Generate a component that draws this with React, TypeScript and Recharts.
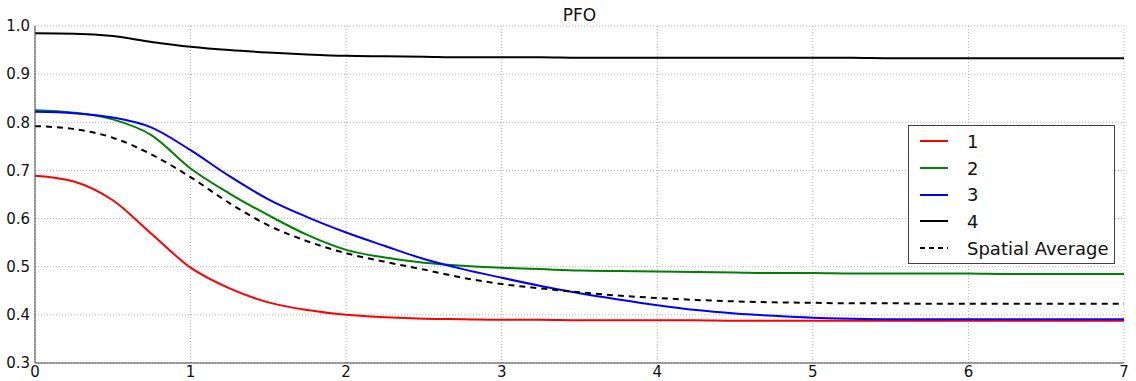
import { LineChart, Line, XAxis, YAxis, CartesianGrid } from 'recharts';

const xs = [0, 0.25, 0.5, 0.75, 1, 1.25, 1.5, 1.75, 2, 2.25, 2.5, 2.75, 3, 3.25, 3.5, 3.75, 4, 4.25, 4.5, 4.75, 5, 5.25, 5.5, 5.75, 6, 6.25, 6.5, 6.75, 7];

const s1 = [0.689, 0.677, 0.638, 0.568, 0.498, 0.455, 0.426, 0.41, 0.4, 0.395, 0.392, 0.391, 0.39, 0.39, 0.389, 0.389, 0.389, 0.389, 0.388, 0.388, 0.388, 0.388, 0.388, 0.388, 0.388, 0.388, 0.388, 0.388, 0.388];
const s2 = [0.825, 0.82, 0.806, 0.773, 0.704, 0.652, 0.607, 0.566, 0.535, 0.519, 0.508, 0.502, 0.498, 0.495, 0.492, 0.491, 0.49, 0.489, 0.488, 0.487, 0.487, 0.486, 0.486, 0.486, 0.486, 0.485, 0.485, 0.485, 0.485];
const s3 = [0.822, 0.819, 0.81, 0.789, 0.742, 0.688, 0.64, 0.603, 0.571, 0.543, 0.516, 0.495, 0.477, 0.46, 0.445, 0.432, 0.42, 0.41, 0.403, 0.398, 0.394, 0.392, 0.391, 0.391, 0.391, 0.391, 0.391, 0.391, 0.391];
const s4 = [0.985, 0.984, 0.979, 0.967, 0.957, 0.95, 0.945, 0.941, 0.938, 0.937, 0.936, 0.935, 0.935, 0.935, 0.934, 0.934, 0.934, 0.934, 0.934, 0.934, 0.934, 0.934, 0.933, 0.933, 0.933, 0.933, 0.933, 0.933, 0.933];
const avg = [0.792, 0.786, 0.768, 0.733, 0.686, 0.632, 0.586, 0.553, 0.528, 0.51, 0.494, 0.477, 0.464, 0.455, 0.447, 0.44, 0.435, 0.431, 0.428, 0.426, 0.425, 0.424, 0.424, 0.423, 0.423, 0.423, 0.423, 0.423, 0.423];

const xTicks = [0, 1, 2, 3, 4, 5, 6, 7];
const yTicks = [0.3, 0.4, 0.5, 0.6, 0.7, 0.8, 0.9, 1.0];

const series = [
  { key: 's1', name: '1', color: '#ff0000', dash: undefined },
  { key: 's2', name: '2', color: '#008000', dash: undefined },
  { key: 's3', name: '3', color: '#0000ff', dash: undefined },
  { key: 's4', name: '4', color: '#000000', dash: undefined },
  { key: 'avg', name: 'Spatial Average', color: '#000000', dash: '6 5' },
];

const data = xs.map((x, i) => ({ x, s1: s1[i], s2: s2[i], s3: s3[i], s4: s4[i], avg: avg[i] }));

const font = '"DejaVu Sans", sans-serif';

const LegendBox = () => (
  <div
    style={{
      position: 'absolute',
      left: 908,
      top: 125,
      width: 205,
      height: 135,
      border: '1px solid #444',
      background: '#fff',
      fontFamily: font,
      fontSize: 18,
      color: '#111',
      paddingTop: 2,
    }}
  >
    {series.map((s) => (
      <div key={s.key} style={{ height: 26.7, display: 'flex', alignItems: 'center' }}>
        <svg width={58} height={10}>
          <line x1={11} y1={5} x2={39} y2={5} stroke={s.color} strokeWidth={2} strokeDasharray={s.dash ? '5 4' : undefined} />
        </svg>
        <span>{s.name}</span>
      </div>
    ))}
  </div>
);

export default function App() {
  return (
    <div style={{ position: 'absolute', left: 0, top: 0, width: 1136, height: 381, background: '#fff' }}>
      <div
        style={{
          position: 'absolute',
          left: 35,
          width: 1089,
          top: 5,
          textAlign: 'center',
          fontFamily: font,
          fontSize: 17,
          color: '#111',
        }}
      >
        PFO
      </div>
      <LineChart width={1136} height={381} data={data} margin={{ top: 26, right: 12, bottom: 0, left: 0 }}>
        <CartesianGrid stroke="#b0b0b0" strokeDasharray="1 2" />
        <XAxis
          dataKey="x"
          type="number"
          domain={[0, 7]}
          ticks={xTicks}
          tickSize={0}
          tickMargin={3}
          height={18}
          stroke="#444"
          tick={{ fill: '#111', fontSize: 15, fontFamily: font }}
        />
        <XAxis xAxisId="top" dataKey="x" type="number" domain={[0, 7]} ticks={xTicks} orientation="top" tick={false} tickSize={0} height={0} stroke="#444" />
        <YAxis
          type="number"
          domain={[0.3, 1.0]}
          ticks={yTicks}
          tickFormatter={(v: number) => v.toFixed(1)}
          tickSize={0}
          tickMargin={5}
          width={35}
          stroke="#444"
          tick={{ fill: '#111', fontSize: 15, fontFamily: font }}
        />
        <YAxis yAxisId="right" orientation="right" type="number" domain={[0.3, 1.0]} ticks={yTicks} tick={false} tickSize={0} width={0} stroke="#444" />
        {series.map((s) => (
          <Line
            key={s.key}
            type="monotone"
            dataKey={s.key}
            name={s.name}
            stroke={s.color}
            strokeWidth={2}
            strokeDasharray={s.dash}
            dot={false}
            isAnimationActive={false}
          />
        ))}
      </LineChart>
      <LegendBox />
    </div>
  );
}
